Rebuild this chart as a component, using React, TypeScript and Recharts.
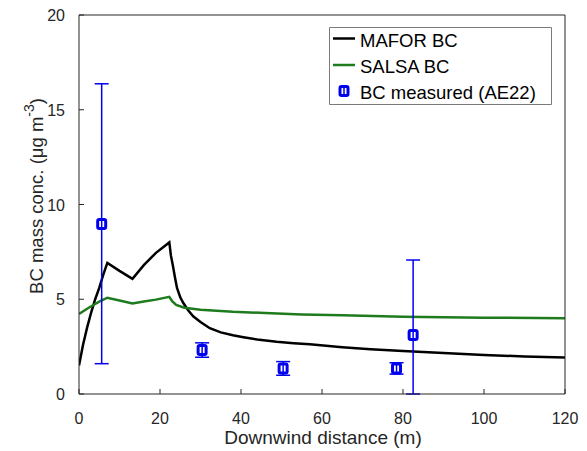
import React from "react";
import { ComposedChart, Line, Scatter, ErrorBar, XAxis, YAxis } from "recharts";

const xTicks = [0, 20, 40, 60, 80, 100, 120];
const yTicks = [0, 5, 10, 15, 20];

// MAFOR model (black)
const maforDist = [0, 1, 2, 3, 4, 5, 6, 7, 10, 13.2, 16, 19, 22.3, 22.7, 23.2, 23.7, 24.2, 25, 25.8, 27, 28.2, 30, 32.3, 35, 38, 40.6, 44, 48.8, 53, 57, 65, 72, 80, 90, 100, 110, 120];
const maforBC = [1.5, 2.6, 3.5, 4.3, 5.0, 5.6, 6.3, 6.92, 6.5, 6.08, 6.8, 7.45, 8.0, 7.3, 6.75, 6.15, 5.6, 5.1, 4.79, 4.4, 4.1, 3.8, 3.47, 3.25, 3.1, 3.0, 2.88, 2.76, 2.68, 2.62, 2.47, 2.36, 2.27, 2.16, 2.06, 1.98, 1.92];

// SALSA model (green)
const salsaDist = [0, 2, 4, 5, 7, 10, 13.2, 16, 19, 22.3, 23, 24, 26, 30, 38, 46, 55, 65, 80, 100, 120];
const salsaBC = [4.22, 4.5, 4.75, 4.87, 5.08, 4.93, 4.78, 4.88, 4.98, 5.13, 4.9, 4.7, 4.55, 4.45, 4.34, 4.27, 4.2, 4.15, 4.08, 4.03, 4.0];

// measured BC (AE22)
const measDist = [5.6, 30.4, 50.4, 78.4, 82.5];
const measBC = [8.97, 2.32, 1.35, 1.35, 3.11];
const measErrLow = [7.37, 0.38, 0.36, 0.3, 3.11];
const measErrHigh = [7.4, 0.38, 0.36, 0.3, 3.96];

const legendLabels = ["MAFOR BC", "SALSA BC", "BC measured (AE22)"];

const maforData = maforDist.map((x, i) => ({ x, y: maforBC[i] }));
const salsaData = salsaDist.map((x, i) => ({ x, y: salsaBC[i] }));
const measData = measDist.map((x, i) => ({ x, y: measBC[i], err: [measErrLow[i], measErrHigh[i]] }));

const FONT = '"Liberation Sans", Arial, sans-serif';
const AXIS = "#262626";
const BLUE = "#0000ee";
const GREEN = "#1e7b1e";

const BottomTick = ({ x, y, payload }: any) => (
  <g>
    <line x1={x} x2={x} y1={y} y2={y - 5} stroke={AXIS} strokeWidth={1} />
    <text x={x} y={y + 30} textAnchor="middle" fontSize={16} fontFamily={FONT} fill={AXIS}>
      {payload.value}
    </text>
  </g>
);

const TopTick = ({ x, y }: any) => <line x1={x} x2={x} y1={y} y2={y + 5} stroke={AXIS} strokeWidth={1} />;

const LeftTick = ({ x, y, payload }: any) => (
  <g>
    <line x1={x} x2={x + 5} y1={y} y2={y} stroke={AXIS} strokeWidth={1} />
    <text x={x - 14} y={y + 6} textAnchor="end" fontSize={16} fontFamily={FONT} fill={AXIS}>
      {payload.value}
    </text>
  </g>
);

const RightTick = ({ x, y }: any) => <line x1={x} x2={x - 5} y1={y} y2={y} stroke={AXIS} strokeWidth={1} />;

const XLabel = () => (
  <text x={323} y={444} textAnchor="middle" fontSize={19} fontFamily={FONT} fill={AXIS}>
    Downwind distance (m)
  </text>
);

const YLabel = () => (
  <text x={43} y={196} transform="rotate(-90, 43, 196)" textAnchor="middle" fontSize={18.5} fontFamily={FONT} fill={AXIS}>
    BC mass conc. (μg m
    <tspan dy={-9} fontSize={14}>-3</tspan>
    <tspan dy={9}>)</tspan>
  </text>
);

const MeasMarker = ({ cx, cy }: any) => (
  <g>
    <rect x={cx - 4} y={cy - 4.5} width={8} height={9} rx={1.5} fill="#fff" stroke={BLUE} strokeWidth={3} />
    <line x1={cx} x2={cx} y1={cy - 4.5} y2={cy + 4.5} stroke={BLUE} strokeWidth={1.5} />
  </g>
);

const LegendBox = () => (
  <g>
    <path d="M329.5,27.5 H551.5 V104.5 H329.5 Z" fill="#fff" stroke="#7a7a7a" strokeWidth={1} />
    <line x1={333} x2={355} y1={38.5} y2={38.5} stroke="#000" strokeWidth={2.5} />
    <text x={360} y={47} fontSize={18.5} fontFamily={FONT} fill="#000">{legendLabels[0]}</text>
    <line x1={333} x2={355} y1={65} y2={65} stroke={GREEN} strokeWidth={2.5} />
    <text x={360} y={73} fontSize={18.5} fontFamily={FONT} fill="#000">{legendLabels[1]}</text>
    <MeasMarker cx={344} cy={91} />
    <text x={360} y={98.5} fontSize={18.5} fontFamily={FONT} fill="#000">{legendLabels[2]}</text>
  </g>
);

export default function App() {
  return (
    <div style={{ position: "absolute", left: 0, top: 0, background: "#fff" }}>
      <ComposedChart width={587} height={451} margin={{ top: 14, right: 21, bottom: 0, left: 0 }}>
        <XAxis
          dataKey="x"
          type="number"
          domain={[0, 120]}
          ticks={xTicks}
          interval={0}
          height={57}
          tickSize={0}
          tickMargin={0}
          tickLine={false}
          tick={<BottomTick />}
          axisLine={{ stroke: AXIS, strokeWidth: 1 }}
          allowDataOverflow
        />
        <XAxis
          xAxisId="t"
          orientation="top"
          dataKey="x"
          type="number"
          domain={[0, 120]}
          ticks={xTicks}
          interval={0}
          height={1}
          tickSize={0}
          tickMargin={0}
          tickLine={false}
          tick={<TopTick />}
          axisLine={{ stroke: AXIS, strokeWidth: 1 }}
        />
        <YAxis
          dataKey="y"
          type="number"
          domain={[0, 20]}
          ticks={yTicks}
          interval={0}
          width={79}
          tickSize={0}
          tickMargin={0}
          tickLine={false}
          tick={<LeftTick />}
          axisLine={{ stroke: AXIS, strokeWidth: 1 }}
          allowDataOverflow
        />
        <YAxis
          yAxisId="r"
          orientation="right"
          dataKey="y"
          type="number"
          domain={[0, 20]}
          ticks={yTicks}
          interval={0}
          width={1}
          tickSize={0}
          tickMargin={0}
          tickLine={false}
          tick={<RightTick />}
          axisLine={{ stroke: AXIS, strokeWidth: 1 }}
        />
        <Line data={maforData} dataKey="y" type="linear" stroke="#000" strokeWidth={2.5} dot={false} isAnimationActive={false} />
        <Line data={salsaData} dataKey="y" type="linear" stroke={GREEN} strokeWidth={2.5} dot={false} isAnimationActive={false} />
        <Scatter data={measData} dataKey="y" shape={<MeasMarker />} isAnimationActive={false}>
          <ErrorBar dataKey="err" direction="y" width={7} stroke={BLUE} strokeWidth={1.5} />
        </Scatter>
        <LegendBox />
        <XLabel />
        <YLabel />
      </ComposedChart>
    </div>
  );
}
